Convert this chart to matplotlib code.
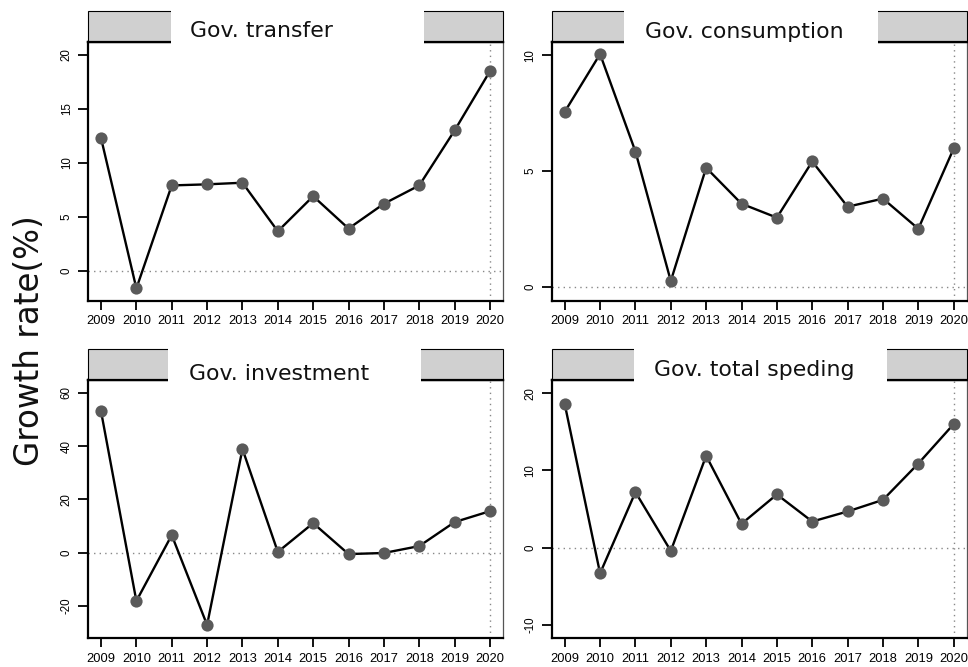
import matplotlib
matplotlib.use("Agg")
import matplotlib.pyplot as plt
from matplotlib.patches import Rectangle
from matplotlib.lines import Line2D

years = [2009, 2010, 2011, 2012, 2013, 2014, 2015, 2016, 2017, 2018, 2019, 2020]
titles = ["Gov. transfer", "Gov. consumption", "Gov. investment", "Gov. total speding"]
transfer = [12.3, -1.65, 7.9, 8.0, 8.15, 3.65, 6.9, 3.9, 6.2, 7.9, 13.0, 18.5]
consumption = [7.56, 10.05, 5.85, 0.27, 5.15, 3.6, 3.0, 5.42, 3.47, 3.82, 2.52, 5.98]
investment = [53.1, -18.1, 6.6, -27.1, 38.9, 0.3, 11.1, -0.5, -0.1, 2.5, 11.5, 15.6]
total = [18.6, -3.3, 7.2, -0.4, 11.9, 3.1, 6.9, 3.4, 4.7, 6.2, 10.9, 16.0]
series = [transfer, consumption, investment, total]
yticks = [[0, 5, 10, 15, 20], [0, 5, 10], [-20, 0, 20, 40, 60], [-10, 0, 10, 20]]

W, H = 968, 667
fig = plt.figure(figsize=(W / 100, H / 100), dpi=100)

def fx(x):
    return x / W

def fy(y):
    return 1 - y / H

# layout in pixels: (left, right, top, bottom) of axes, strip top, gap, text pos
panels = [
    dict(box=(88, 503, 42, 300.7), strip_top=11, gap=(171, 424), text=(190, 37.0), ylim=(-2.79, 21.2)),
    dict(box=(551.7, 966.7, 42, 300.7), strip_top=11, gap=(624.3, 878), text=(645, 38.0), ylim=(-0.58, 10.57)),
    dict(box=(88, 503, 380, 638.3), strip_top=349, gap=(167.7, 421), text=(189, 380.0), ylim=(-32.1, 64.8)),
    dict(box=(551.7, 966.7, 380, 638.3), strip_top=349, gap=(634, 887), text=(654, 375.5), ylim=(-11.7, 21.7)),
]

xlim = (2008.632, 2020.368)

for p, vals, yt, title in zip(panels, series, yticks, titles):
    l, r, t, b = p["box"]
    ax = fig.add_axes([fx(l), fy(b), (r - l) / W, (b - t) / H])
    ax.set_xlim(*xlim)
    ax.set_ylim(*p["ylim"])
    ax.axhline(0, color="#888888", lw=1.0, ls=(0, (1, 3)), zorder=1)
    ax.axvline(2020, color="#888888", lw=1.0, ls=(0, (1, 3)), zorder=1)
    ax.plot(years, vals, color="black", lw=1.7, zorder=3)
    ax.plot(years, vals, ls="none", marker="o", ms=8.8, color="#5a5a5a",
            markeredgewidth=0, zorder=4)
    ax.set_xticks(years)
    ax.set_xticklabels([str(y) for y in years], fontfamily="Liberation Sans", fontsize=9.3)
    ax.set_yticks(yt)
    ax.set_yticklabels([str(v) for v in yt], fontfamily="Liberation Sans", fontsize=8.3,
                       rotation=90, va="center")
    ax.tick_params(axis="x", length=6.5, width=1.3, pad=4)
    ax.tick_params(axis="y", length=7, width=1.3, pad=4)
    for s in ["left", "bottom", "top"]:
        ax.spines[s].set_linewidth(1.6)
        ax.spines[s].set_color("black")
    ax.spines["right"].set_linewidth(0.9)
    ax.spines["right"].set_color("#555555")

    # strip
    st = p["strip_top"]
    fig.patches.append(Rectangle((fx(l), fy(t)), (r - l) / W, (t - st) / H,
                                 transform=fig.transFigure, facecolor="#d0d0d0",
                                 edgecolor="black", lw=0.8, zorder=5))
    fig.lines.append(Line2D([fx(l), fx(r)], [fy(t), fy(t)], transform=fig.transFigure,
                            color="black", lw=1.6, zorder=6))
    g0, g1 = p["gap"]
    fig.patches.append(Rectangle((fx(g0), fy(t + 2)), (g1 - g0) / W, (t + 2 - st + 2) / H,
                                 transform=fig.transFigure, facecolor="white",
                                 edgecolor="none", zorder=7))
    tx, ty = p["text"]
    fig.text(fx(tx), fy(ty), title, ha="left", va="baseline", fontsize=15.8,
             fontfamily="DejaVu Sans", color="#111111", zorder=8)

fig.text(fx(30), fy(341), "Growth rate(%)", rotation=90, ha="center", va="center",
         fontsize=23.5, fontfamily="DejaVu Sans", color="#111111")

fig.savefig("out.png", dpi=100)
